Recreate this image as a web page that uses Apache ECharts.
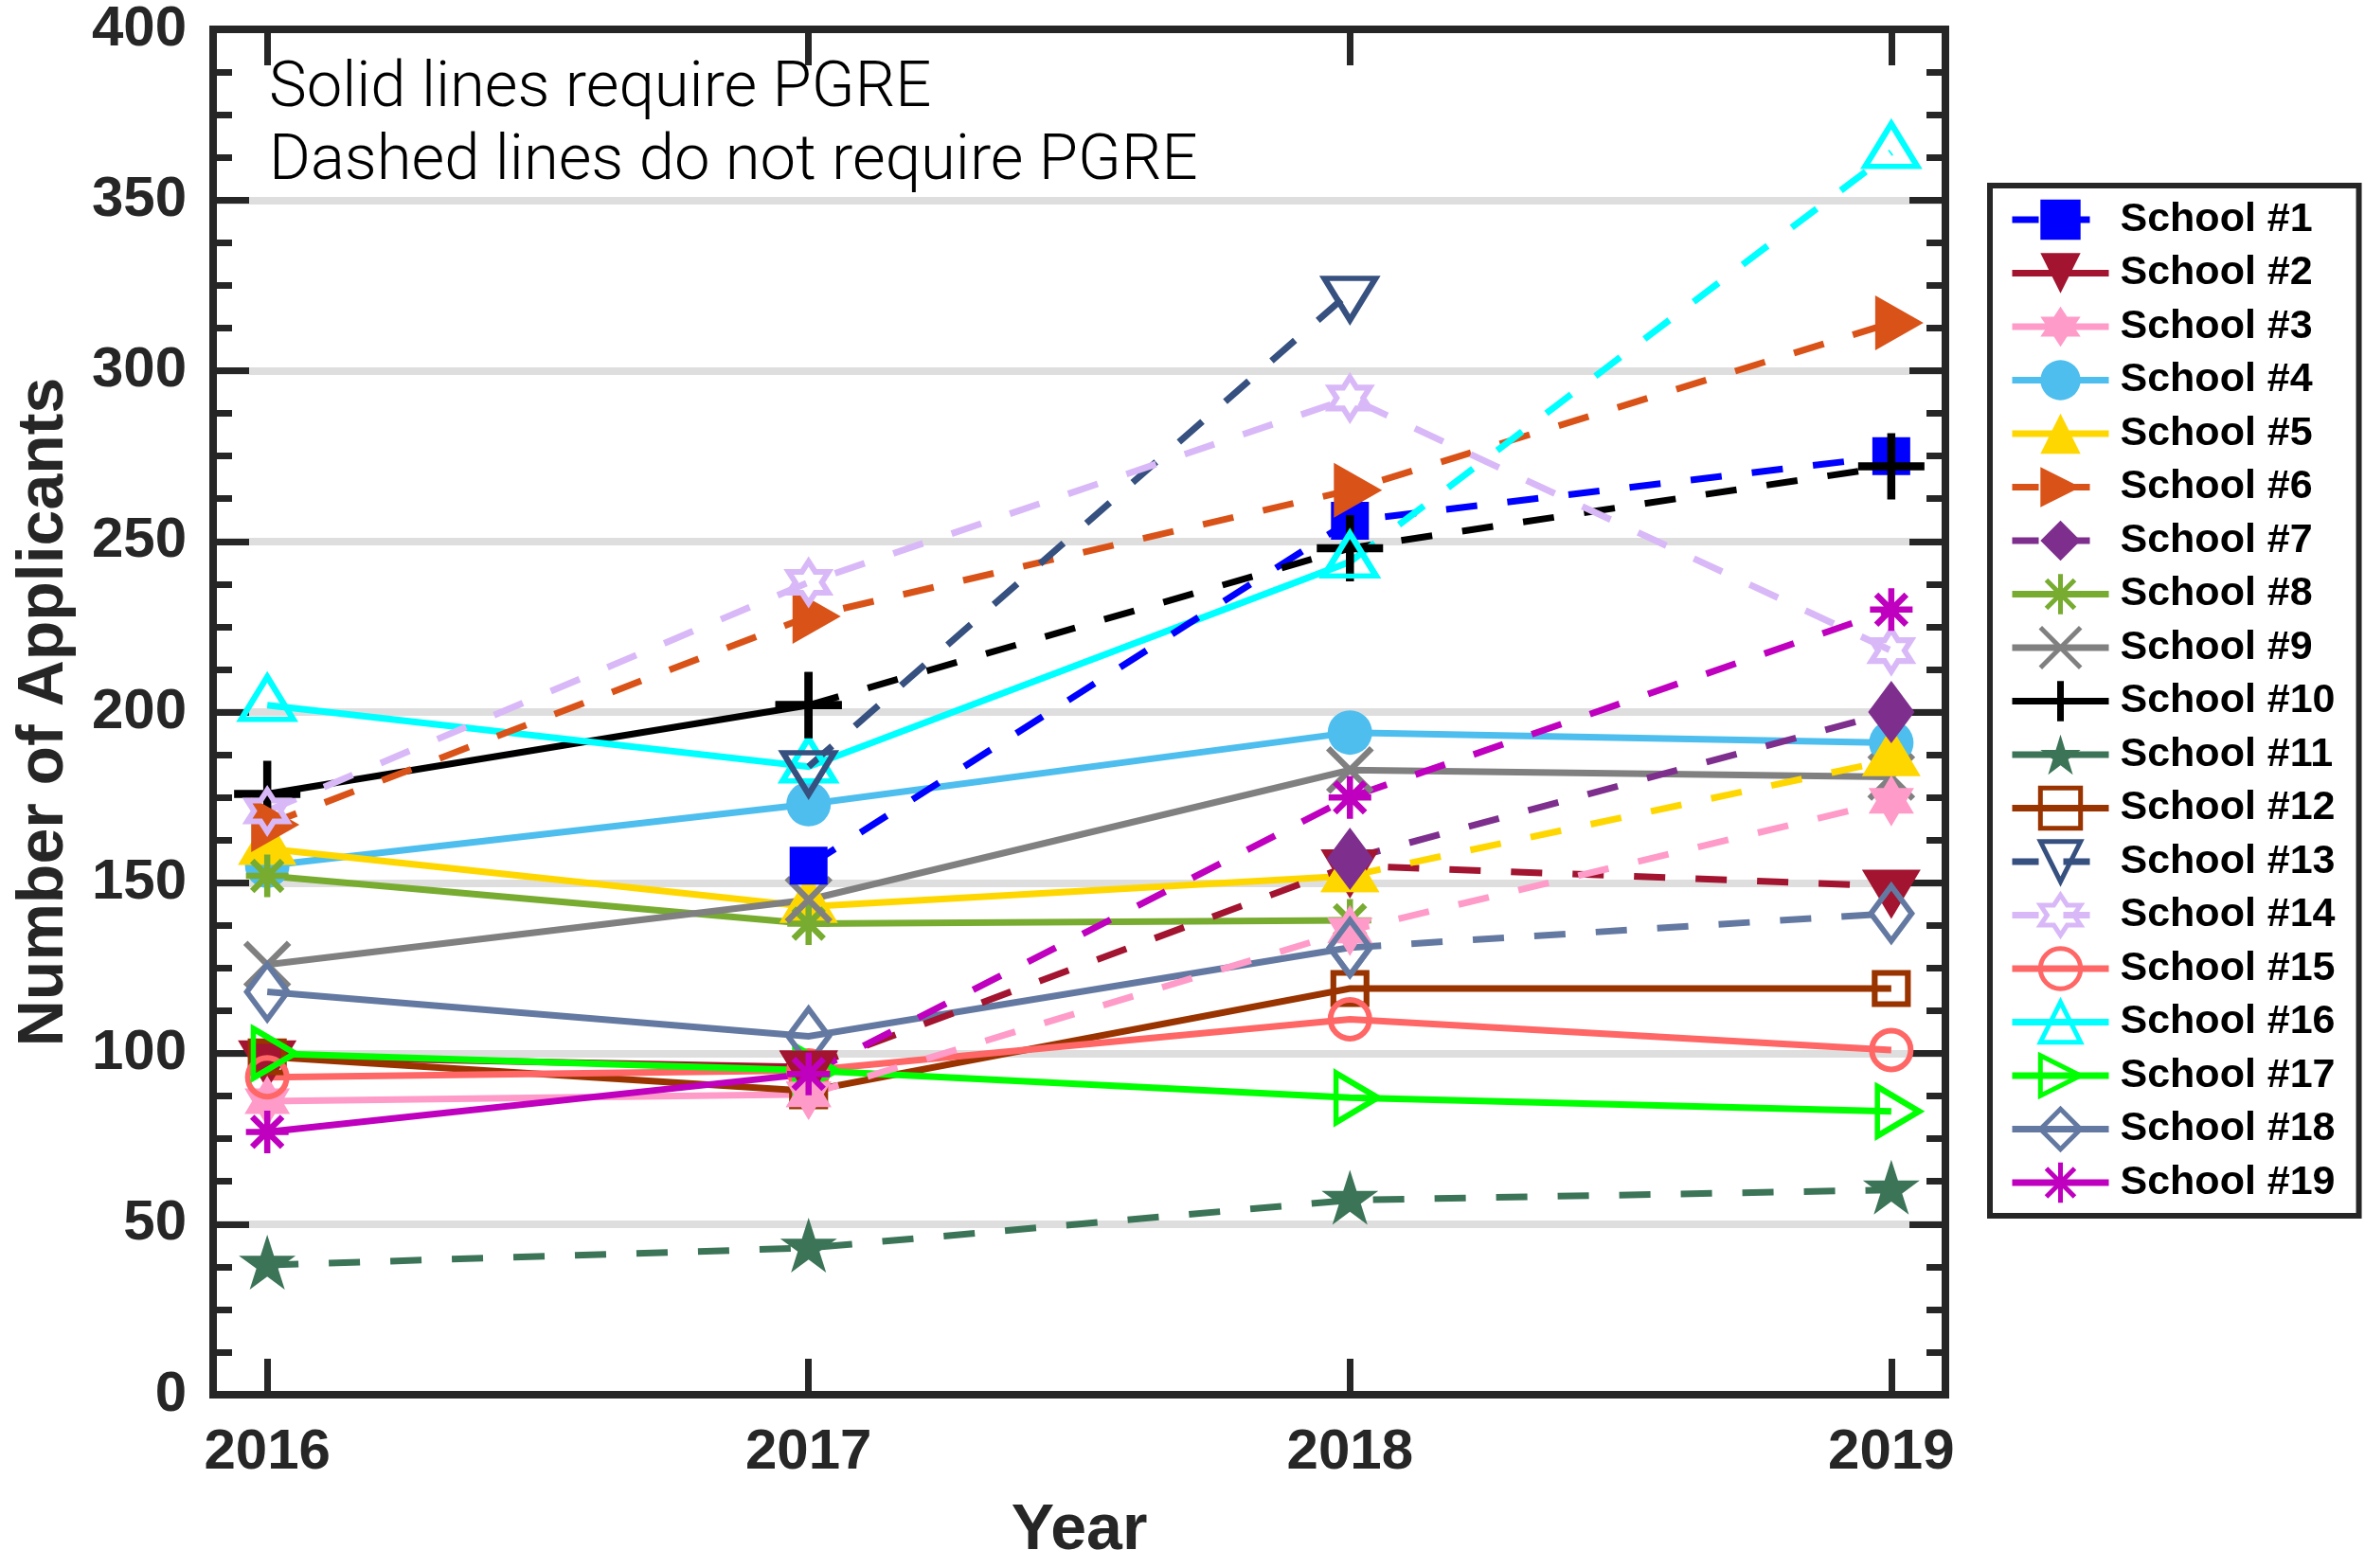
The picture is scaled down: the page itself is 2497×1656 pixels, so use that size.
<!DOCTYPE html>
<html>
<head>
<meta charset="utf-8">
<script src="https://cdn.jsdelivr.net/npm/echarts@6/dist/echarts.min.js"></script>
<style>
html,body{margin:0;padding:0;background:#fff;}
#chart{width:2497px;height:1656px;}
</style>
</head>
<body>
<div id="chart"></div>
<script>
// ---------------- data ----------------
const years = [2016, 2017, 2018, 2019];
const yTickValues = [0, 50, 100, 150, 200, 250, 300, 350, 400];
const schoolNames = ['School #1','School #2','School #3','School #4','School #5','School #6','School #7',
  'School #8','School #9','School #10','School #11','School #12','School #13','School #14','School #15',
  'School #16','School #17','School #18','School #19'];
const school1  = [null, 155, 256, 275];
const school2  = [99, 96, 155, 149];
const school3  = [86, 88, 136, 174];
const school4  = [155, 173, 194, 191];
const school5  = [160, 143, 152, 186];
const school6  = [167, 228, 265, 314];
const school7  = [null, null, 157, 200];
const school8  = [152, 138, 139, null];
const school9  = [126, 145, 183, 181];
const school10 = [176, 202, 248, 272];
const school11 = [38, 43, 57, 60];
const school12 = [99, 89, 119, 119];
const school13 = [null, 184, 323, null];
const school14 = [171, 238, 292, 218];
const school15 = [93, 95, 110, 101];
const school16 = [202, 184, 244, 364];
const school17 = [100, 95, 87, 83];
const school18 = [118, 105, 131, 141];
const school19 = [77, 94, 175, 230];
const schools = [school1, school2, school3, school4, school5, school6, school7, school8, school9, school10,
  school11, school12, school13, school14, school15, school16, school17, school18, school19];
// segment line style between consecutive years: S = solid (requires PGRE), D = dashed
const segmentStyles = ['DDD','SDD','SDD','SSS','SSD','DDD','DDD','SSS','SSS','SDD',
  'DDD','SSS','DDD','DDD','SSS','SSD','SSS','SSD','SDD'];
const legendStyles = ['D','S','S','S','S','D','D','S','S','S','S','S','D','D','S','S','S','S','S'];
const colors = ['#0000FF','#A2142F','#FF9BC8','#4DBEEE','#FFD700','#D95319','#7E2F8E','#77AC30','#808080','#000000',
  '#3B7457','#993300','#36507F','#D9B8F8','#FF6666','#00FFFF','#00FF00','#6479A1','#BF00BF'];
const markerKinds = ['squareF','vtriF','hexaF','circleF','utriF','rtriF','diamondF','aster','xmark','plus',
  'pentaF','squareO','vtriO','hexaO','circleO','utriO','rtriO','diamondO','aster'];

// ---------------- marker styles ----------------
const P_UTRI = 'path://M0,-1L1,1L-1,1Z';
const P_VTRI = 'path://M-1,-1L1,-1L0,1Z';
const P_RTRI = 'path://M-1,-1L1,0L-1,1Z';
const P_HEXA = 'path://M0,-1L0.2887,-0.5L0.866,-0.5L0.577,0L0.866,0.5L0.2887,0.5L0,1L-0.2887,0.5L-0.866,0.5L-0.577,0L-0.866,-0.5L-0.2887,-0.5Z';
const P_PENTA = 'path://M0,-1L0.2245,-0.309L0.951,-0.309L0.3633,0.118L0.5878,0.809L0,0.382L-0.5878,0.809L-0.3633,0.118L-0.951,-0.309L-0.2245,-0.309Z';
const P_ASTER = 'path://M0,-1L0,1M-1,0L1,0M-0.707,-0.707L0.707,0.707M-0.707,0.707L0.707,-0.707';
const P_X = 'path://M-1,-1L1,1M-1,1L1,-1';
const P_PLUS = 'path://M0,-1L0,1M-1,0L1,0';
const MK = {
  squareF:  {symbol:'rect', size:[40,40], offset:[0,0], open:false, bw:0, lbw:0},
  squareO:  {symbol:'rect', size:[35,33], offset:[0,0], open:true, bw:6, lbw:5},
  vtriF:    {symbol:P_VTRI, size:[62,52], offset:[0,52/6], open:false, bw:0, lbw:0},
  vtriO:    {symbol:P_VTRI, size:[54,44], offset:[0,44/6], open:true, bw:6, lbw:5},
  utriF:    {symbol:P_UTRI, size:[62,52], offset:[0,-52/6], open:false, bw:0, lbw:0},
  utriO:    {symbol:P_UTRI, size:[55,45], offset:[0,-45/6], open:true, bw:6, lbw:5},
  rtriF:    {symbol:P_RTRI, size:[51,58], offset:[51/6,0], open:false, bw:0, lbw:0},
  rtriO:    {symbol:P_RTRI, size:[44,52], offset:[44/6,0], open:true, bw:6, lbw:5},
  hexaF:    {symbol:P_HEXA, size:[48,54], offset:[0,0], open:false, bw:0, lbw:0},
  hexaO:    {symbol:P_HEXA, size:[42,44], offset:[0,0], open:true, bw:6, lbw:5},
  circleF:  {symbol:'circle', size:[47,47], offset:[0,0], open:false, bw:0, lbw:0},
  circleO:  {symbol:'circle', size:[41,41], offset:[0,0], open:true, bw:6, lbw:5},
  diamondF: {symbol:'diamond', size:[49,66], offset:[0,0], open:false, bw:0, lbw:0},
  diamondO: {symbol:'diamond', size:[43,58], offset:[0,0], open:true, bw:6, lbw:5},
  pentaF:   {symbol:P_PENTA, size:[60,58], offset:[0,-3], open:false, bw:0, lbw:0},
  aster:    {symbol:P_ASTER, size:[45,45], offset:[0,0], open:true, bw:6.5, lbw:5},
  xmark:    {symbol:P_X, size:[46,46], offset:[0,0], open:true, bw:6.5, lbw:5},
  plus:     {symbol:P_PLUS, size:[70,70], offset:[0,0], open:true, bw:8.5, lbw:7}
};

const AXIS_COLOR = '#262626';
const FONT = '"Liberation Sans", Arial, Helvetica, sans-serif';
const DASH = [33, 32];
const LINE_W = 7;

// ---------------- series (solid segments drawn first, dashed segments on top) ----------------
const series = [];
['S', 'D'].forEach(st => {
  schools.forEach((vals, k) => {
    const segs = segmentStyles[k];
    const m = MK[markerKinds[k]];
    const c = colors[k];
    const data = years.map((yr, i) => {
      const left = i > 0 && segs[i - 1] === st && vals[i - 1] != null && vals[i] != null;
      const right = i < years.length - 1 && segs[i] === st && vals[i + 1] != null && vals[i] != null;
      return [yr, (left || right) ? vals[i] : null];
    });
    if (!data.some(d => d[1] != null)) return;
    series.push({
      type: 'line',
      name: schoolNames[k],
      data: data,
      xAxisIndex: 0,
      yAxisIndex: 0,
      symbol: m.symbol,
      symbolSize: m.size,
      symbolOffset: m.offset,
      symbolKeepAspect: false,
      showSymbol: true,
      showAllSymbol: true,
      connectNulls: false,
      clip: false,
      silent: true,
      animation: false,
      emphasis: {disabled: true},
      lineStyle: {color: c, width: LINE_W, type: st === 'S' ? 'solid' : DASH, cap: 'butt', join: 'miter'},
      itemStyle: {color: m.open ? 'rgba(0,0,0,0)' : c, borderColor: c, borderWidth: m.bw}
    });
  });
});

const legendData = schoolNames.map((n, k) => {
  const m = MK[markerKinds[k]];
  const c = colors[k];
  return {
    name: n,
    lineStyle: {color: c, width: LINE_W, type: legendStyles[k] === 'S' ? 'solid' : [28, 26]},
    itemStyle: {color: m.open ? 'rgba(0,0,0,0)' : c, borderColor: c, borderWidth: m.lbw}
  };
});

const gridBox = {left: 225, right: 443, top: 31, bottom: 175};

const axisLineStyle = {color: AXIS_COLOR, width: 8, cap: 'square'};
const option = {
  backgroundColor: '#ffffff',
  animation: false,
  grid: Object.assign({containLabel: false}, gridBox),
  xAxis: [
    {
      type: 'value', position: 'bottom', min: 2015.9, max: 2019.1,
      axisLine: {show: true, onZero: false, lineStyle: axisLineStyle},
      axisTick: {show: true, inside: true, length: 38, customValues: years, lineStyle: {color: AXIS_COLOR, width: 7}},
      axisLabel: {show: true, customValues: years, margin: 31, formatter: v => String(v),
        fontSize: 60, fontWeight: 'bold', fontFamily: FONT, color: AXIS_COLOR},
      splitLine: {show: false},
      name: 'Year', nameLocation: 'middle', nameGap: 110,
      nameTextStyle: {fontSize: 68, fontWeight: 'bold', fontFamily: FONT, color: AXIS_COLOR}
    },
    {
      type: 'value', position: 'top', min: 2015.9, max: 2019.1,
      axisLine: {show: true, onZero: false, lineStyle: axisLineStyle},
      axisTick: {show: true, inside: true, length: 38, customValues: years, lineStyle: {color: AXIS_COLOR, width: 7}},
      axisLabel: {show: false},
      splitLine: {show: false}
    }
  ],
  yAxis: [
    {
      type: 'value', position: 'left', min: yTickValues[0], max: yTickValues[yTickValues.length - 1], interval: 50,
      axisLine: {show: true, onZero: false, lineStyle: axisLineStyle},
      axisTick: {show: true, inside: true, length: 38, lineStyle: {color: AXIS_COLOR, width: 7}},
      minorTick: {show: true, splitNumber: 4, length: 20, lineStyle: {color: AXIS_COLOR, width: 7}},
      axisLabel: {show: true, margin: 28, fontSize: 60, fontWeight: 'bold', fontFamily: FONT, color: AXIS_COLOR},
      splitLine: {show: true, lineStyle: {color: '#DEDEDE', width: 8}},
      name: 'Number of Applicants', nameLocation: 'middle', nameGap: 144, nameRotate: 90,
      nameTextStyle: {fontSize: 68, fontWeight: 'bold', fontFamily: FONT, color: AXIS_COLOR}
    },
    {
      type: 'value', position: 'right', min: yTickValues[0], max: yTickValues[yTickValues.length - 1], interval: 50,
      axisLine: {show: true, onZero: false, lineStyle: axisLineStyle},
      axisTick: {show: true, inside: true, length: 38, lineStyle: {color: AXIS_COLOR, width: 7}},
      minorTick: {show: true, splitNumber: 4, length: 20, lineStyle: {color: AXIS_COLOR, width: 7}},
      axisLabel: {show: false},
      splitLine: {show: false}
    }
  ],
  legend: {
    show: true,
    orient: 'vertical',
    left: 2101,
    top: 196,
    itemWidth: 102,
    itemHeight: 53,
    itemGap: 0,
    padding: [7.75, 25, 6.75, 20],
    backgroundColor: '#ffffff',
    borderColor: AXIS_COLOR,
    borderWidth: 6,
    borderRadius: 0,
    selectedMode: false,
    textStyle: {fontSize: 43, lineHeight: 56.5, padding: [0, 0, 0, 7], fontWeight: 'bold', fontFamily: FONT, color: '#000000'},
    data: legendData
  },
  graphic: [
    {type: 'text', x: 284, y: 95.5, silent: true,
      style: {text: 'Solid lines require PGRE', fontSize: 67, fontWeight: 300, fontFamily: 'Roboto, "Liberation Sans", sans-serif',
        fill: '#000000', align: 'left', verticalAlign: 'middle'}},
    {type: 'text', x: 284, y: 172.5, silent: true,
      style: {text: 'Dashed lines do not require PGRE', fontSize: 67, fontWeight: 300, fontFamily: 'Roboto, "Liberation Sans", sans-serif',
        fill: '#000000', align: 'left', verticalAlign: 'middle'}}
  ],
  series: series
};

const chart = echarts.init(document.getElementById('chart'), null, {renderer: 'canvas', width: 2497, height: 1656});
chart.setOption(option);
</script>
</body>
</html>
